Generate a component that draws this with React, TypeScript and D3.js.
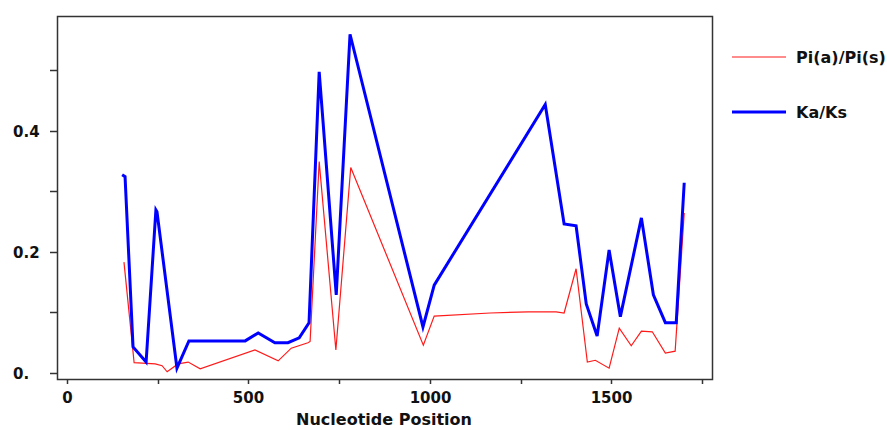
import { useEffect, useRef } from 'react';
import * as d3 from 'd3';

// Ka/Ks series (nucleotide position, value)
const kaksPos = [152, 160, 182, 218, 245, 248, 303, 336, 491, 527, 573, 609, 640, 667, 695, 703, 742, 780, 981, 1012, 1318, 1370, 1403, 1431, 1461, 1494, 1525, 1583, 1616, 1649, 1679, 1690, 1701];
const kaksVal = [0.327, 0.324, 0.043, 0.018, 0.269, 0.266, 0.008, 0.053, 0.053, 0.066, 0.05, 0.05, 0.058, 0.083, 0.497, 0.435, 0.129, 0.559, 0.076, 0.145, 0.443, 0.246, 0.243, 0.114, 0.061, 0.203, 0.093, 0.256, 0.129, 0.083, 0.083, 0.2, 0.314];

// Pi(a)/Pi(s) series
const piPos = [157, 185, 243, 262, 276, 306, 334, 367, 518, 582, 618, 664, 670, 695, 741, 782, 982, 1012, 1166, 1271, 1348, 1370, 1403, 1434, 1456, 1494, 1522, 1555, 1583, 1613, 1649, 1676, 1701];
const piVal = [0.183, 0.017, 0.015, 0.012, 0.002, 0.015, 0.018, 0.007, 0.038, 0.02, 0.041, 0.05, 0.052, 0.349, 0.038, 0.339, 0.046, 0.094, 0.099, 0.101, 0.101, 0.099, 0.172, 0.018, 0.021, 0.008, 0.074, 0.045, 0.069, 0.068, 0.033, 0.036, 0.264];

const xTicks = [0, 250, 500, 750, 1000, 1250, 1500, 1750];
const xLabels = ['0', '', '500', '', '1000', '', '1500', ''];
const yTicks = [0, 0.1, 0.2, 0.3, 0.4, 0.5];
const yLabels = ['0.', '', '0.2', '', '0.4', ''];

const seriesNames = ['Pi(a)/Pi(s)', 'Ka/Ks'];
const seriesColors = ['#ff1a1a', '#0000ff'];
const seriesWidths = [1.2, 3];

const App = () => {
  const ref = useRef<SVGSVGElement>(null);

  useEffect(() => {
    if (!ref.current) return;
    const svg = d3.select(ref.current);
    svg.selectAll('*').remove();

    const font = '"DejaVu Sans", sans-serif';
    const frame = { left: 57, right: 712, top: 16, bottom: 379 };

    const x = d3.scaleLinear().domain([0, 1750]).range([67, 702]);
    const y = d3.scaleLinear().domain([0, 0.5]).range([373, 70]);

    // frame
    svg.append('rect')
      .attr('x', frame.left + 0.5)
      .attr('y', frame.top + 0.5)
      .attr('width', frame.right - frame.left)
      .attr('height', frame.bottom - frame.top)
      .attr('fill', 'none')
      .attr('stroke', '#333')
      .attr('stroke-width', 1.5);

    // y ticks
    yTicks.forEach((t, i) => {
      const yy = Math.round(y(t)) + 0.5;
      svg.append('line')
        .attr('x1', frame.left - 7).attr('x2', frame.left)
        .attr('y1', yy).attr('y2', yy)
        .attr('stroke', '#333').attr('stroke-width', 1.5);
      if (yLabels[i]) {
        svg.append('text')
          .attr('x', 13)
          .attr('y', yy + 5.5)
          .style('font-family', font)
          .style('font-weight', 'bold')
          .style('font-size', '15px')
          .attr('fill', '#111')
          .text(yLabels[i]);
      }
    });

    // x ticks
    xTicks.forEach((t, i) => {
      const xx = Math.round(x(t)) + 0.5;
      svg.append('line')
        .attr('x1', xx).attr('x2', xx)
        .attr('y1', frame.bottom).attr('y2', frame.bottom + 5)
        .attr('stroke', '#333').attr('stroke-width', 1.5);
      if (xLabels[i]) {
        svg.append('text')
          .attr('x', xx)
          .attr('y', 403)
          .attr('text-anchor', 'middle')
          .style('font-family', font)
          .style('font-weight', 'bold')
          .style('font-size', '15px')
          .attr('fill', '#111')
          .text(xLabels[i]);
      }
    });

    // x axis title
    svg.append('text')
      .attr('x', 384)
      .attr('y', 425)
      .attr('text-anchor', 'middle')
      .style('font-family', font)
      .style('font-weight', 'bold')
      .style('font-size', '16px')
      .attr('fill', '#111')
      .text('Nucleotide Position');

    const line = d3.line<[number, number]>()
      .x(d => x(d[0]))
      .y(d => y(d[1]));

    const piData: [number, number][] = piPos.map((p, i) => [p, piVal[i]]);
    const kaksData: [number, number][] = kaksPos.map((p, i) => [p, kaksVal[i]]);

    svg.append('path')
      .datum(piData)
      .attr('d', line)
      .attr('fill', 'none')
      .attr('stroke', seriesColors[0])
      .attr('stroke-width', seriesWidths[0]);

    svg.append('path')
      .datum(kaksData)
      .attr('d', line)
      .attr('fill', 'none')
      .attr('stroke', seriesColors[1])
      .attr('stroke-width', seriesWidths[1])
      .attr('stroke-linejoin', 'miter');

    // legend
    const legendY = [57, 112];
    seriesNames.forEach((name, i) => {
      svg.append('line')
        .attr('x1', 732).attr('x2', 786)
        .attr('y1', legendY[i]).attr('y2', legendY[i])
        .attr('stroke', seriesColors[i])
        .attr('stroke-width', seriesWidths[i]);
      svg.append('text')
        .attr('x', 796)
        .attr('y', legendY[i] + 6)
        .style('font-family', font)
        .style('font-weight', 'bold')
        .style('font-size', '16px')
        .attr('fill', '#111')
        .text(name);
    });
  }, []);

  return (
    <svg
      ref={ref}
      width={887}
      height={430}
      style={{ position: 'absolute', left: 0, top: 0, background: '#fff', display: 'block' }}
    />
  );
};

export default App;
